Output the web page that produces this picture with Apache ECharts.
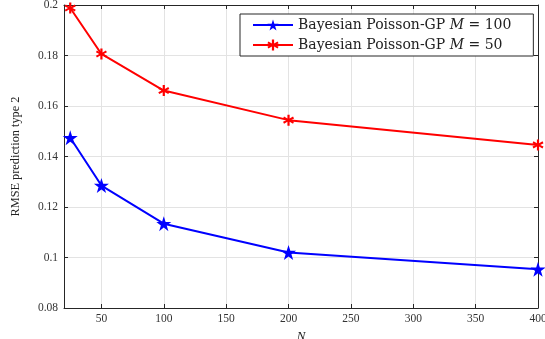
<!DOCTYPE html>
<html><head><meta charset="utf-8">
<script src="https://cdn.jsdelivr.net/npm/echarts@6/dist/echarts.min.js"></script>
<style>html,body{margin:0;padding:0;background:#fff}#c{width:545px;height:339px}</style>
</head><body><div id="c"></div>
<script>
const N = [25, 50, 100, 200, 400];
const rmseM100 = [0.1474, 0.1285, 0.1134, 0.1020, 0.0953];
const rmseM50 = [0.1988, 0.1806, 0.1661, 0.1544, 0.1446];
const xTicks = [50, 100, 150, 200, 250, 300, 350, 400];
const seriesNames = ['Bayesian Poisson-GP M100', 'Bayesian Poisson-GP M50'];

const font = 'Liberation Serif';
const legendFont = 'DejaVu Serif';
const axisCol = '#262626';
const gridCol = '#e3e3e3';
const asterisk = 'path://M4,0 L6,0 L6,3.6 L9.1,1.8 L10,3.5 L7,5 L10,6.5 L9.1,8.2 L6,6.4 L6,10 L4,10 L4,6.4 L0.9,8.2 L0,6.5 L3,5 L0,3.5 L0.9,1.8 L4,3.6 Z';
const star = 'path://M50,0 L61.8,35.3 L98.9,35.3 L68.9,57.1 L80.3,92.7 L50,70.7 L19.7,92.7 L31.1,57.1 L1.1,35.3 L38.2,35.3 Z';

const chart = echarts.init(document.getElementById('c'), null, {renderer: 'canvas'});
const baseX = {
  type: 'value', min: 20, max: 400,
  axisLine: {show: true, lineStyle: {color: axisCol, width: 1}},
  axisTick: {show: true, inside: true, length: 4, customValues: xTicks, lineStyle: {color: axisCol}},
  splitLine: {show: false},
};
const baseY = {
  type: 'value', min: 0.08, max: 0.2, interval: 0.02,
  axisLine: {show: true, lineStyle: {color: axisCol, width: 1}},
  axisTick: {show: true, inside: true, length: 4, lineStyle: {color: axisCol}},
  splitLine: {show: false},
};
chart.setOption({
  animation: false,
  grid: {left: 64, right: 7, top: 5, bottom: 31, outerBoundsMode: 'none', containLabel: false},
  xAxis: [
    Object.assign({}, baseX, {
      position: 'bottom',
      name: 'N', nameLocation: 'middle', nameGap: 20,
      nameTextStyle: {fontFamily: font, fontStyle: 'italic', fontSize: 13, color: '#222'},
      axisLabel: {customValues: xTicks, fontFamily: font, fontSize: 11.5, color: '#333', margin: 5,
        formatter: v => String(v)},
      splitLine: {show: true, lineStyle: {color: gridCol, width: 1}}
    }),
    Object.assign({}, baseX, {position: 'top', axisLabel: {show: false}})
  ],
  yAxis: [
    Object.assign({}, baseY, {
      position: 'left',
      name: 'RMSE prediction type 2', nameLocation: 'middle', nameGap: 42, nameRotate: 90,
      nameTextStyle: {fontFamily: font, fontSize: 12.3, color: '#222'},
      axisLabel: {fontFamily: font, fontSize: 11.5, color: '#333', margin: 6,
        formatter: v => String(+v.toFixed(2))},
      splitLine: {show: true, lineStyle: {color: gridCol, width: 1}}
    }),
    Object.assign({}, baseY, {position: 'right', axisLabel: {show: false}})
  ],
  legend: {
    show: true,
    left: 240, top: 14,
    orient: 'vertical',
    itemWidth: 40, itemHeight: 14, itemGap: 6,
    padding: [4, 22, 4, 12],
    borderColor: axisCol, borderWidth: 1, backgroundColor: '#fff', borderRadius: 0,
    data: seriesNames,
    formatter: n => n === seriesNames[0]
      ? 'Bayesian Poisson-GP {i|M} = 100'
      : 'Bayesian Poisson-GP {i|M} = 50',
    textStyle: {fontFamily: legendFont, fontSize: 14, color: '#222',
      rich: {i: {fontFamily: legendFont, fontStyle: 'italic', fontSize: 14, color: '#222'}}}
  },
  series: [
    {
      name: seriesNames[0], type: 'line',
      data: N.map((x, i) => [x, rmseM100[i]]),
      lineStyle: {color: '#0000ff', width: 2},
      itemStyle: {color: '#0000ff'},
      symbol: star,
      symbolSize: 15, showSymbol: true, clip: false, z: 3
    },
    {
      name: seriesNames[1], type: 'line',
      data: N.map((x, i) => [x, rmseM50[i]]),
      lineStyle: {color: '#ff0000', width: 2},
      itemStyle: {color: '#ff0000'},
      symbol: asterisk,
      symbolSize: 11, showSymbol: true, clip: false, z: 3
    }
  ]
});
</script></body></html>
